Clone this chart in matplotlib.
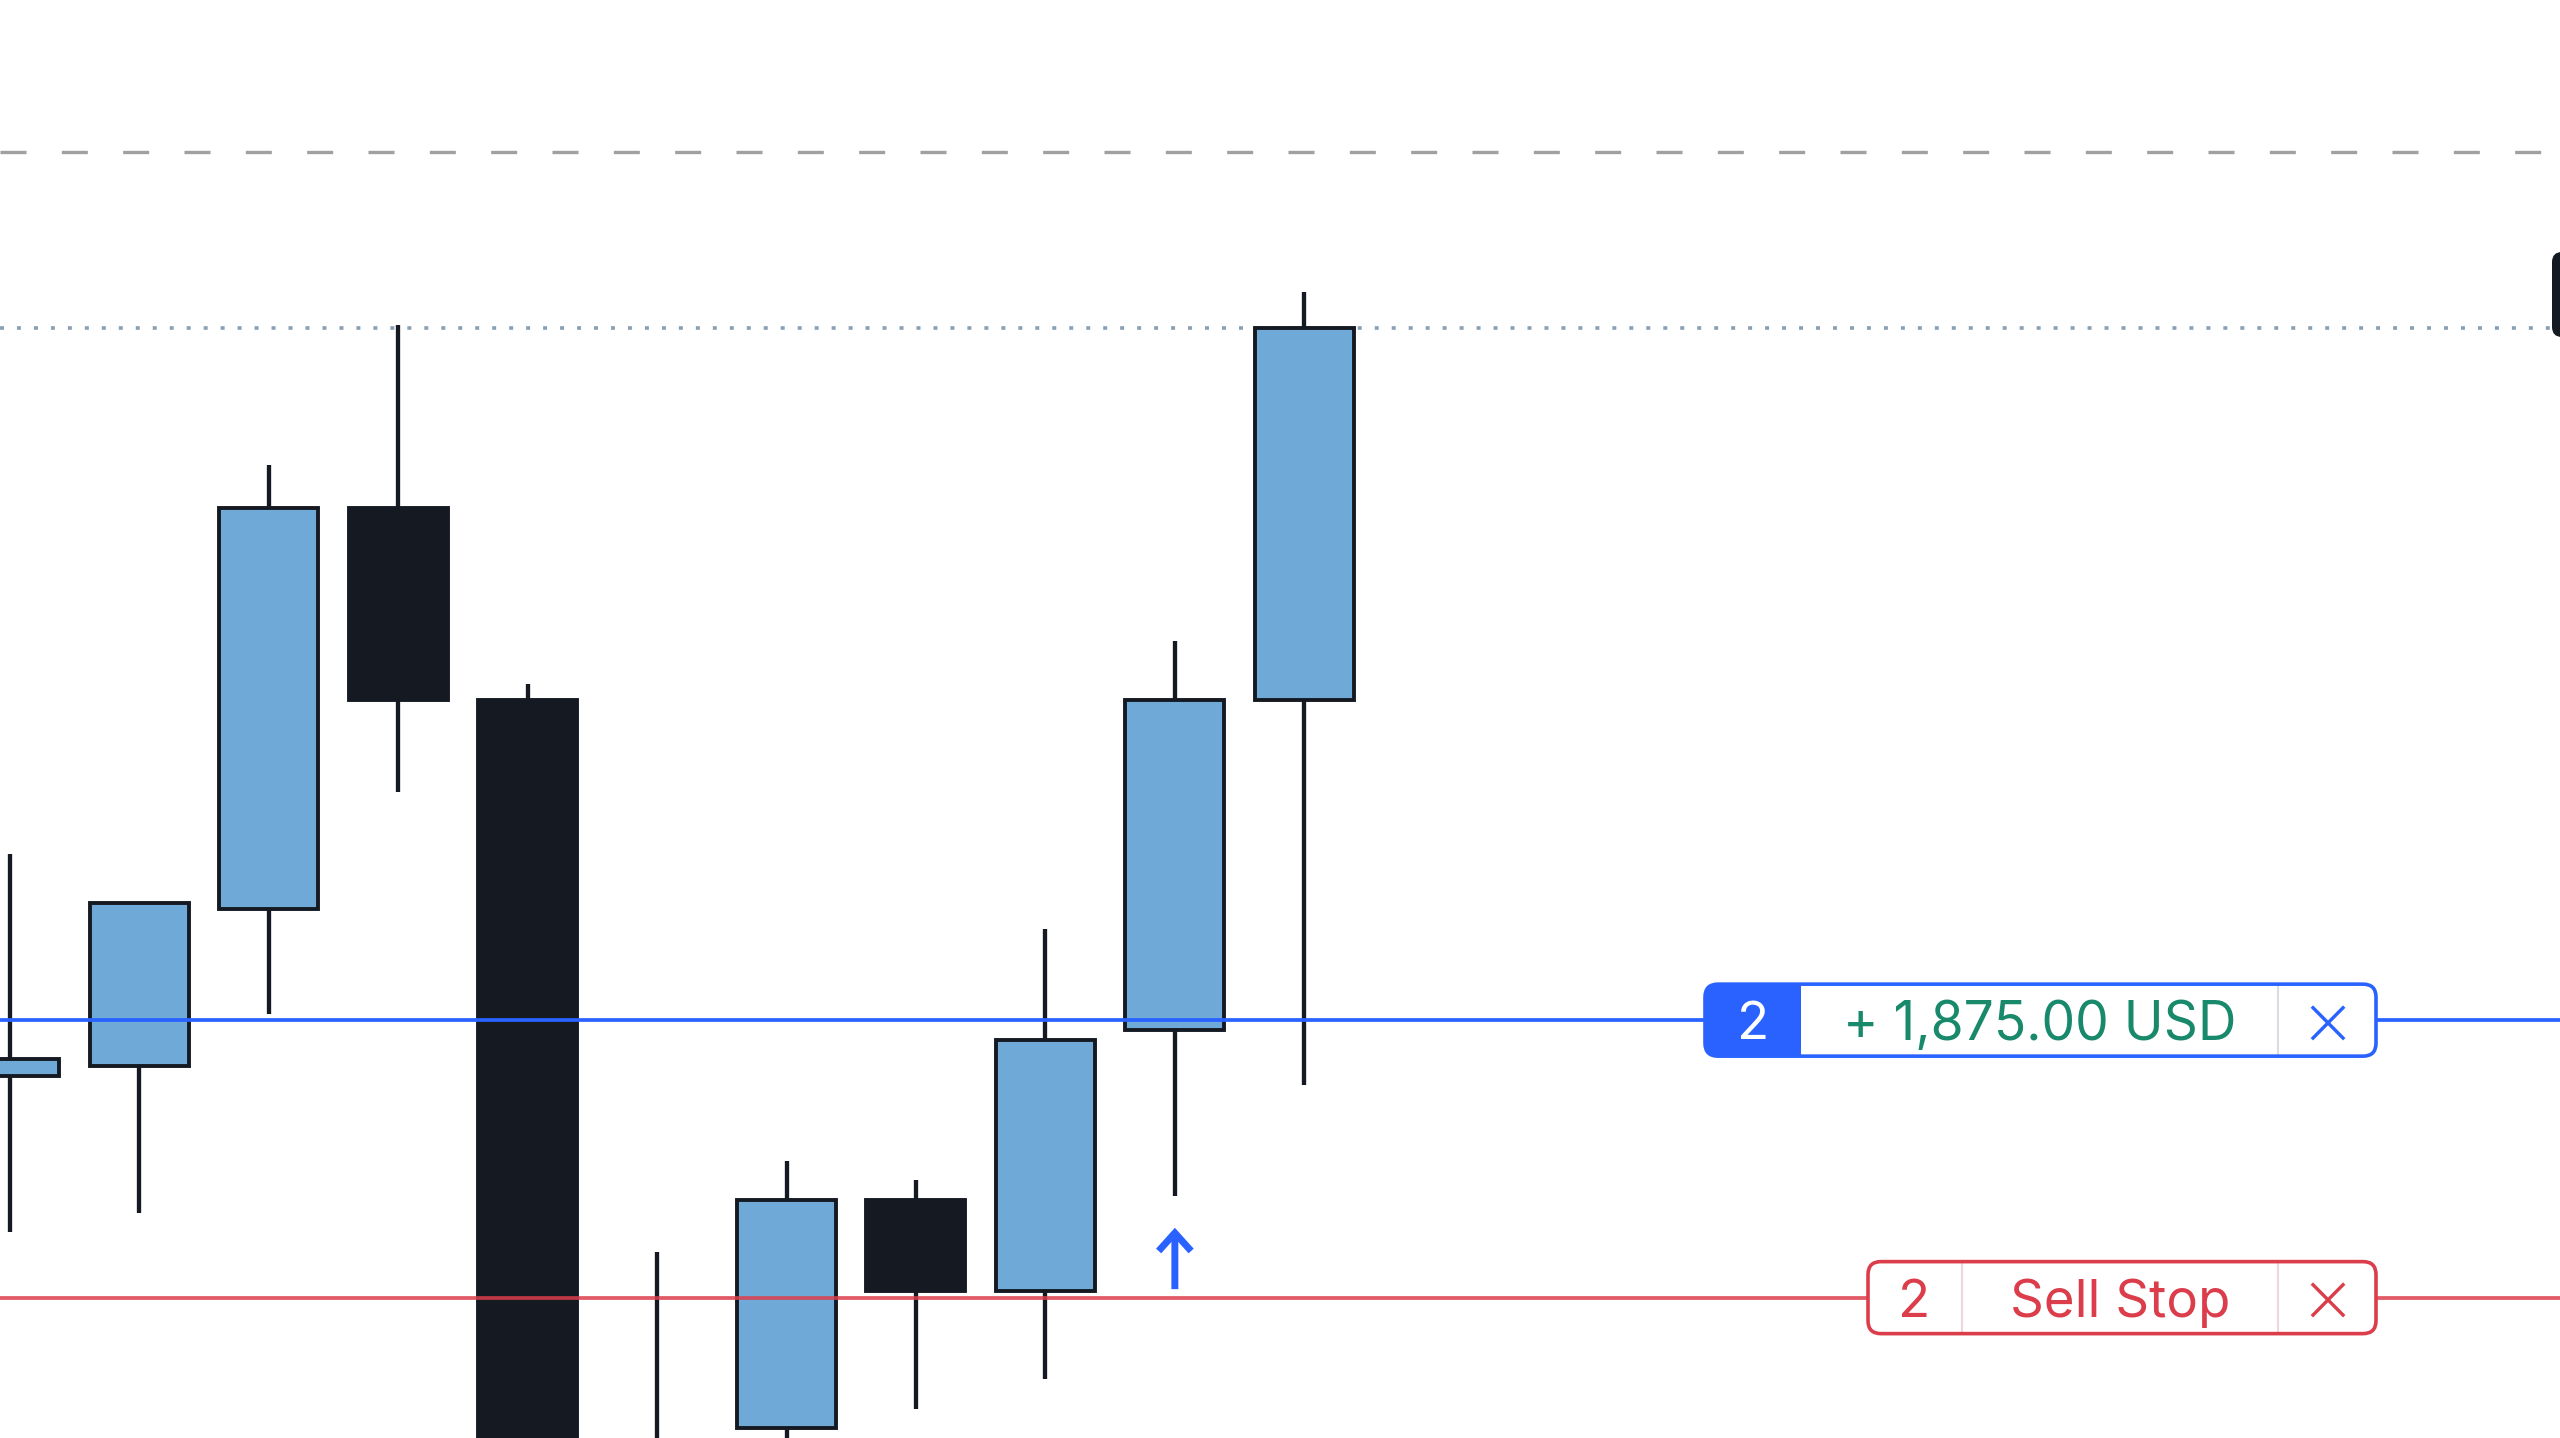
import matplotlib
matplotlib.use("Agg")
import matplotlib.pyplot as plt
from matplotlib.patches import FancyBboxPatch, Rectangle, FancyArrowPatch
from matplotlib.transforms import IdentityTransform

W, H, DPI = 2560, 1438, 100

# OHLC bars, oldest first
bar_index = list(range(11))
opens  = [4477.75, 4478.50, 4490.50, 4521.25, 4506.50, 4440.00, 4450.75, 4468.25, 4461.25, 4481.25, 4506.50]
highs  = [4494.75, 4491.00, 4524.50, 4535.25, 4507.75, 4464.25, 4471.25, 4469.75, 4489.00, 4511.00, 4537.75]
lows   = [4465.75, 4467.25, 4482.50, 4499.50, 4428.00, 4435.00, 4447.50, 4452.25, 4454.50, 4468.50, 4477.00]
closes = [4479.00, 4491.00, 4521.25, 4506.50, 4432.00, 4447.50, 4468.25, 4461.25, 4480.50, 4506.50, 4535.00]

# horizontal levels
alert_level = 4548.50      # grey dashed
last_price = 4535.00       # dotted last-price line
position_price = 4482.00   # open position (blue)
stop_price = 4460.75       # pending sell stop (red)

# order / position labels
position_qty = "2"
position_pnl = "+ 1,875.00 USD"
stop_qty = "2"
stop_text = "Sell Stop"

# buy execution marker
fill_bar = 9
fill_arrow_tip = 4466.10
fill_arrow_tail = 4461.40

UP_FILL = "#6fa9d7"
DOWN_FILL = "#151a22"
EDGE = "#151a22"
BLUE = "#2962ff"
RED = "#dc3d4b"
GREEN = "#19896c"
FONT = ["Inter", "DejaVu Sans"]

fig = plt.figure(figsize=(W / DPI, H / DPI), dpi=DPI)
ax = fig.add_axes([0, 0, 1, 1])
ax.set_xlim(-0.0757, 19.70)
ax.set_ylim(4450.0, 4560.125)
ax.axis("off")

# candles
ax.vlines(bar_index, lows, highs, colors=EDGE, linewidth=3.1, zorder=2)
bottoms = [min(o, c) for o, c in zip(opens, closes)]
heights = [abs(c - o) for o, c in zip(opens, closes)]
fills = [UP_FILL if c >= o else DOWN_FILL for o, c in zip(opens, closes)]
ax.bar(bar_index, heights, bottom=bottoms, width=0.765, color=fills,
       edgecolor=EDGE, linewidth=2.8, zorder=3)

# horizontal levels
ax.axhline(alert_level, color="#a0a0a0", linewidth=2.4, linestyle=(0, (7.8, 10.6)), zorder=1)
ax.axhline(last_price, color="#8a9fb3", linewidth=2.6, linestyle=(0, (1.1, 3.6)), zorder=1)
ax.axhline(position_price, color=BLUE, linewidth=2.7, zorder=4)
ax.axhline(stop_price, color=RED, linewidth=2.7, alpha=0.85, zorder=4)

# execution arrow
ax.add_patch(FancyArrowPatch((fill_bar, fill_arrow_tail), (fill_bar, fill_arrow_tip),
                             arrowstyle="->,head_length=0.5,head_width=0.45",
                             mutation_scale=26, color=BLUE, linewidth=5.0,
                             shrinkA=0, shrinkB=0, capstyle="butt",
                             joinstyle="miter", zorder=5))

px = IdentityTransform()


def line_y(price):
    return ax.transData.transform((0, price))[1]


def label_box(x0, x1, yc, h, edge):
    box = FancyBboxPatch((x0, yc - h / 2), x1 - x0, h,
                         boxstyle="round,pad=0,rounding_size=13",
                         facecolor="white", edgecolor="none",
                         transform=px, zorder=6)
    fig.add_artist(box)
    border = FancyBboxPatch((x0, yc - h / 2), x1 - x0, h,
                            boxstyle="round,pad=0,rounding_size=13",
                            facecolor="none", edgecolor=edge, linewidth=2.6,
                            transform=px, zorder=8)
    return box, border


def text_px(x, yc, s, color, size=38, weight="normal"):
    fig.text(x / W, (yc - 0.727 * size * DPI / 72 / 2) / H, s, color=color,
             fontsize=size, fontweight=weight, family=FONT,
             ha="center", va="baseline", zorder=9)


# position label on the blue line
yb = line_y(position_price)
box, border = label_box(1705, 2376, yb, 72, BLUE)
seg = Rectangle((1705, yb - 40), 96, 80, facecolor=BLUE, edgecolor="none",
                transform=px, zorder=7)
fig.add_artist(seg)
seg.set_clip_path(box)
fig.add_artist(border)
fig.add_artist(plt.Line2D([2278, 2278], [yb - 35, yb + 35], color="#d9dce3",
                          linewidth=1.5, transform=px, zorder=7))
text_px(1753, yb, position_qty, "white")
text_px(2040, yb, position_pnl, GREEN, size=38.5)
text_px(2327, yb + 3, "×", BLUE, size=58, weight="light")

# sell stop label on the red line
yr = line_y(stop_price)
box, border = label_box(1868, 2376, yr, 72, RED)
fig.add_artist(border)
for xs in (1962, 2278):
    fig.add_artist(plt.Line2D([xs, xs], [yr - 35, yr + 35], color="#f2d6da",
                              linewidth=1.5, transform=px, zorder=7))
text_px(1914, yr, stop_qty, RED)
text_px(2120, yr, stop_text, RED)
text_px(2327, yr + 3, "×", RED, size=58, weight="light")

# price-scale tag peeking in at the right edge
fig.add_artist(FancyBboxPatch((2552, H - 337), 40, 85,
                              boxstyle="round,pad=0,rounding_size=10",
                              facecolor="#151a22", edgecolor="none",
                              transform=px, zorder=6))

fig.savefig("out.png", dpi=DPI)
